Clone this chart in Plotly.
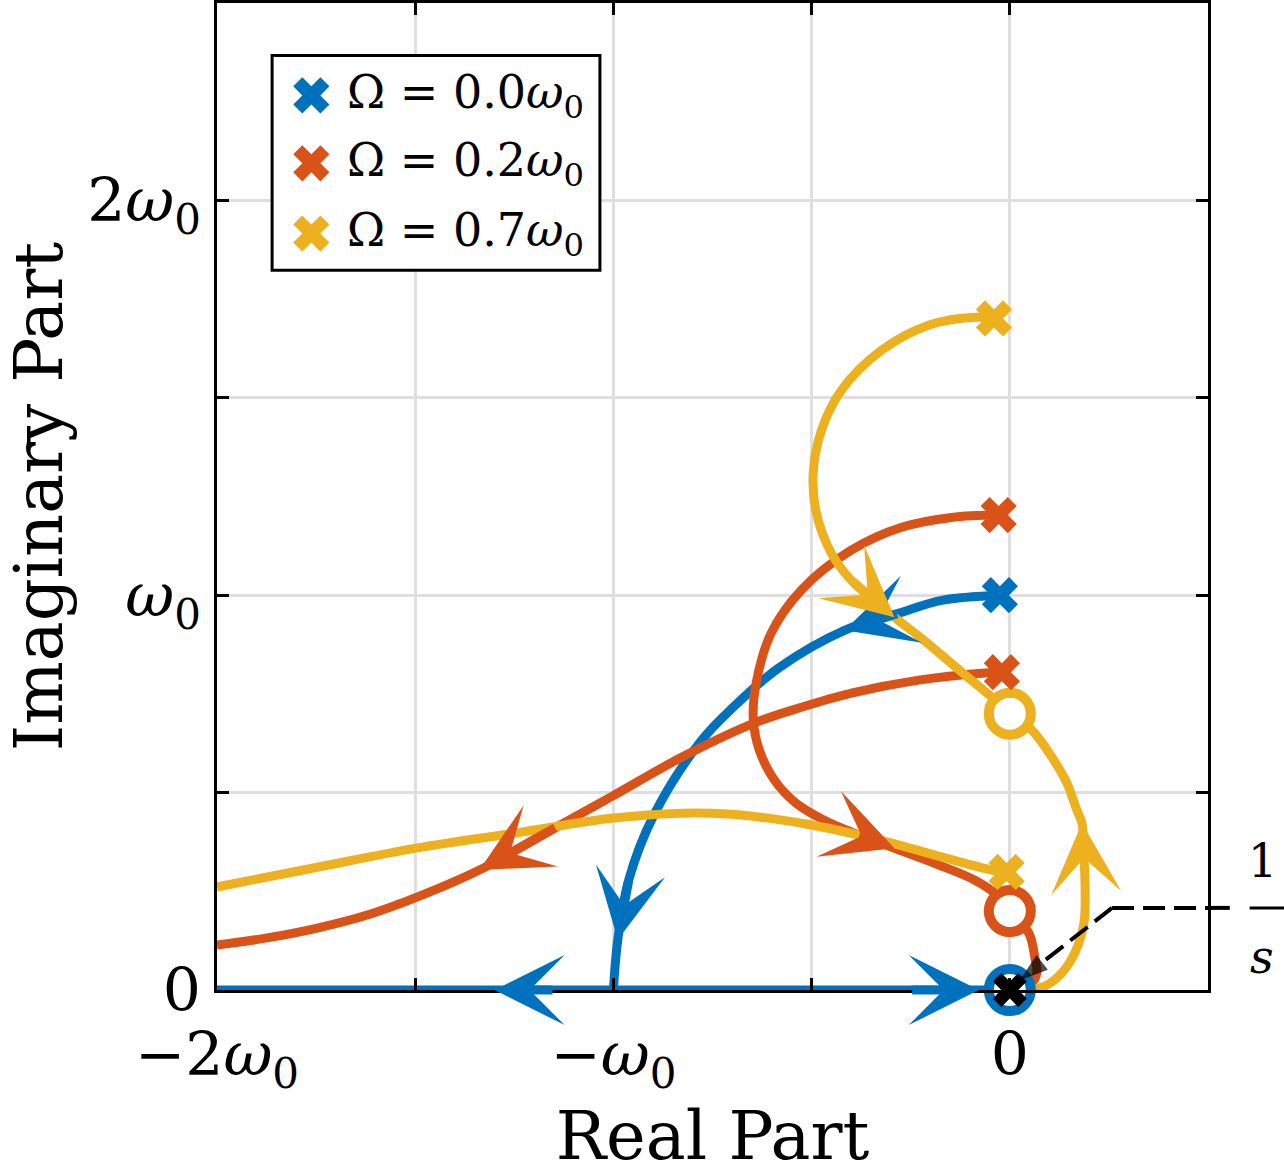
import plotly.graph_objects as go

# ---------------- data (units of w0) ----------------
OMEGA_LABELS = ["0.0", "0.2", "0.7"]
COLORS = ["#0072BD", "#D95319", "#EDB120"]

# Omega = 0.0 : branch pole -> (-1, 0) (arc), then split along real axis
BLUE_ARC_X = [-0.025, -0.172, -0.281, -0.417, -0.584, -0.700, -0.781, -0.898, -0.961, -0.989, -1.000]
BLUE_ARC_Y = [1.000, 0.987, 0.954, 0.911, 0.815, 0.714, 0.628, 0.443, 0.280, 0.127, 0.000]
BLUE_LEFT_X = [-1.000, -1.150, -1.300, -2.000]
BLUE_LEFT_Y = [0.000, 0.000, 0.000, 0.000]
BLUE_RIGHT_X = [-1.000, -0.250, -0.078, 0.000]
BLUE_RIGHT_Y = [0.000, 0.000, 0.000, 0.000]

# Omega = 0.2
RED_UP_X = [-0.028, -0.147, -0.273, -0.400, -0.526, -0.602, -0.640, -0.647, -0.632, -0.594, -0.539, -0.468, -0.374, -0.291, -0.185, -0.088, -0.033, 0.000]
RED_UP_Y = [1.203, 1.197, 1.172, 1.114, 1.013, 0.904, 0.777, 0.684, 0.608, 0.532, 0.473, 0.430, 0.390, 0.359, 0.319, 0.278, 0.241, 0.200]
RED_LOW_X = [-0.020, -0.063, -0.230, -0.400, -0.526, -0.645, -0.827, -1.006, -1.143, -1.338, -1.494, -1.621, -1.747, -1.874, -2.000]
RED_LOW_Y = [0.805, 0.803, 0.785, 0.752, 0.716, 0.676, 0.590, 0.489, 0.413, 0.304, 0.236, 0.190, 0.157, 0.132, 0.114]
RED_ORIG_X = [0.020, 0.056, 0.068, 0.063, 0.048, 0.000]
RED_ORIG_Y = [0.000, 0.018, 0.043, 0.083, 0.144, 0.200]

# Omega = 0.7
YEL_UP_X = [-0.040, -0.088, -0.205, -0.324, -0.425, -0.475, -0.496, -0.488, -0.450, -0.400, -0.291, -0.223, -0.121, -0.046, 0.000]
YEL_UP_Y = [1.701, 1.704, 1.684, 1.620, 1.519, 1.418, 1.309, 1.208, 1.106, 1.038, 0.944, 0.891, 0.805, 0.742, 0.700]
YEL_LOW_X = [-0.008, -0.046, -0.172, -0.298, -0.400, -0.500, -0.600, -0.700, -0.827, -1.006, -1.231, -1.494, -1.747, -2.000]
YEL_LOW_Y = [0.299, 0.304, 0.337, 0.372, 0.397, 0.418, 0.434, 0.445, 0.448, 0.435, 0.400, 0.360, 0.311, 0.261]
YEL_ORIG_X = [0.000, 0.050, 0.089, 0.131, 0.164, 0.187, 0.190, 0.187, 0.182, 0.169, 0.144, 0.106, 0.056, 0.000]
YEL_ORIG_Y = [0.000, 0.002, 0.010, 0.043, 0.094, 0.170, 0.253, 0.340, 0.423, 0.456, 0.524, 0.590, 0.658, 0.700]

# open-loop poles (x) and zeros (o)
POLES_X = [[-0.025], [-0.028, -0.020], [-0.040, -0.008]]
POLES_Y = [[1.000], [1.203, 0.805], [1.701, 0.299]]
ZEROS_X = [[0.0], [0.0], [0.0]]
ZEROS_Y = [[0.0], [0.2], [0.7]]
CTRL_POLE_X = [0.0]
CTRL_POLE_Y = [0.0]

# pointer to the controller pole 1/s
POINTER_X = [0.258, 0.025]
POINTER_Y = [0.208, 0.025]

# axis ticks
X_TICKS = [-2.0, -1.5, -1.0, -0.5, 0.0, 0.5]
X_TICKTEXT = ["−2<i>ω</i><sub>0</sub>", "", "−<i>ω</i><sub>0</sub>", "", "0", ""]
Y_TICKS = [0.0, 0.5, 1.0, 1.5, 2.0, 2.5]
Y_TICKTEXT = ["0", "", "<i>ω</i><sub>0</sub>", "", "2<i>ω</i><sub>0</sub>", ""]

FONT = "DejaVu Serif"

fig = go.Figure()


def add_line(xs, ys, color):
    fig.add_trace(go.Scatter(x=xs, y=ys, mode="lines",
                             line=dict(color=color, width=9, shape="spline", smoothing=1.0),
                             hoverinfo="skip", showlegend=False))


def add_arrow(xs, ys, i, color):
    fig.add_annotation(x=xs[i], y=ys[i], ax=xs[i - 1], ay=ys[i - 1],
                       xref="x", yref="y", axref="x", ayref="y", text="",
                       showarrow=True, arrowhead=3, arrowsize=1.3, arrowwidth=9,
                       arrowcolor=color)


c_b, c_r, c_y = COLORS
add_line(BLUE_ARC_X, BLUE_ARC_Y, c_b)
add_line(BLUE_LEFT_X, BLUE_LEFT_Y, c_b)
add_line(BLUE_RIGHT_X, BLUE_RIGHT_Y, c_b)
add_line(RED_UP_X, RED_UP_Y, c_r)
add_line(RED_LOW_X, RED_LOW_Y, c_r)
add_line(RED_ORIG_X, RED_ORIG_Y, c_r)
add_line(YEL_UP_X, YEL_UP_Y, c_y)
add_line(YEL_LOW_X, YEL_LOW_Y, c_y)
add_line(YEL_ORIG_X, YEL_ORIG_Y, c_y)

add_arrow(BLUE_ARC_X, BLUE_ARC_Y, 3, c_b)
add_arrow(BLUE_ARC_X, BLUE_ARC_Y, 9, c_b)
add_arrow(BLUE_LEFT_X, BLUE_LEFT_Y, 2, c_b)
add_arrow(BLUE_RIGHT_X, BLUE_RIGHT_Y, 2, c_b)
add_arrow(RED_UP_X, RED_UP_Y, 13, c_r)
add_arrow(RED_LOW_X, RED_LOW_Y, 9, c_r)
add_arrow(YEL_UP_X, YEL_UP_Y, 10, c_y)
add_arrow(YEL_ORIG_X, YEL_ORIG_Y, 8, c_y)

# zeros
for k in range(3):
    fig.add_trace(go.Scatter(x=ZEROS_X[k], y=ZEROS_Y[k], mode="markers",
                             marker=dict(symbol="circle", size=42, color="white",
                                         line=dict(color=COLORS[k], width=10)),
                             hoverinfo="skip", showlegend=False, cliponaxis=False))
# poles
for k in range(3):
    fig.add_trace(go.Scatter(x=POLES_X[k], y=POLES_Y[k], mode="markers",
                             marker=dict(symbol="x", size=32, color=COLORS[k], line=dict(width=0)),
                             hoverinfo="skip", showlegend=False))

# controller pole and dashed pointer to it
fig.add_trace(go.Scatter(x=CTRL_POLE_X, y=CTRL_POLE_Y, mode="markers",
                         marker=dict(symbol="x", size=30, color="black", line=dict(width=0)),
                         hoverinfo="skip", showlegend=False, cliponaxis=False))
fig.add_trace(go.Scatter(x=POINTER_X, y=POINTER_Y, mode="lines+markers",
                         line=dict(color="black", width=4, dash="22px,9px"),
                         marker=dict(symbol="arrow", size=[0, 30], angleref="previous",
                                     color="black", line=dict(width=0)),
                         hoverinfo="skip", showlegend=False, cliponaxis=False))

# horizontal part of the pointer (runs out of the axes) and the 1/s label
fig.add_shape(type="line", xref="x", yref="y", x0=POINTER_X[0], x1=0.5, y0=POINTER_Y[0], y1=POINTER_Y[0],
              line=dict(color="black", width=4, dash="22px,9px"), layer="above")
fig.add_shape(type="line", xref="paper", yref="y", x0=1.0, x1=1.022, y0=POINTER_Y[0], y1=POINTER_Y[0],
              line=dict(color="black", width=4), layer="above")
fig.add_shape(type="line", xref="paper", yref="y", x0=1.042, x1=1.08, y0=POINTER_Y[0], y1=POINTER_Y[0],
              line=dict(color="black", width=3), layer="above")
fig.add_annotation(x=1.0545, y=POINTER_Y[0] + 0.118, xref="paper", yref="y", text="1",
                   xanchor="center", yanchor="middle", showarrow=False,
                   font=dict(family=FONT, size=46, color="black"))
fig.add_annotation(x=1.0545, y=POINTER_Y[0] - 0.125, xref="paper", yref="y", text="<i>s</i>",
                   xanchor="center", yanchor="middle", showarrow=False,
                   font=dict(family=FONT, size=46, color="black"))

# ---------------- custom legend (large markers) ----------------
LEG_X0, LEG_X1, LEG_Y0, LEG_Y1 = -1.861, -1.034, 1.823, 2.367
LEG_ROWS = [2.266, 2.094, 1.916]
fig.add_shape(type="rect", xref="x", yref="y", x0=LEG_X0, x1=LEG_X1, y0=LEG_Y0, y1=LEG_Y1,
              line=dict(color="black", width=3), fillcolor="white", layer="between")
for k in range(3):
    fig.add_trace(go.Scatter(x=[-1.762], y=[LEG_ROWS[k]], mode="markers",
                             marker=dict(symbol="x", size=32, color=COLORS[k], line=dict(width=0)),
                             hoverinfo="skip", showlegend=False))
    fig.add_annotation(x=-1.678, y=LEG_ROWS[k], xref="x", yref="y", xanchor="left", yanchor="middle",
                       text="Ω = " + OMEGA_LABELS[k] + "<i>ω</i><sub>0</sub>", showarrow=False,
                       font=dict(family=FONT, size=46, color="black"))

axis_common = dict(showgrid=True, gridcolor="rgb(223,223,223)", gridwidth=3,
                   zeroline=False, showline=True, linecolor="black", linewidth=3,
                   mirror="ticks", ticks="inside", ticklen=12, tickwidth=3, tickcolor="black",
                   automargin=False,
                   tickfont=dict(family=FONT, size=60, color="black"))

fig.update_layout(
    width=1284, height=1175,
    margin=dict(l=217, r=76, t=3, b=185),
    paper_bgcolor="white", plot_bgcolor="white",
    showlegend=False,
    xaxis=dict(range=[-2.0, 0.5], tickvals=X_TICKS, ticktext=X_TICKTEXT,
               title=dict(text="Real Part", font=dict(family=FONT, size=67, color="black"), standoff=30),
               ticklabelstandoff=10, **axis_common),
    yaxis=dict(range=[0.0, 2.5], tickvals=Y_TICKS, ticktext=Y_TICKTEXT,
               title=dict(text="Imaginary Part", font=dict(family=FONT, size=67, color="black"), standoff=6),
               ticklabelstandoff=1, **axis_common),
)

fig.write_html("out.html", config={"displayModeBar": False},
               post_script="document.body.style.margin='0px';")
